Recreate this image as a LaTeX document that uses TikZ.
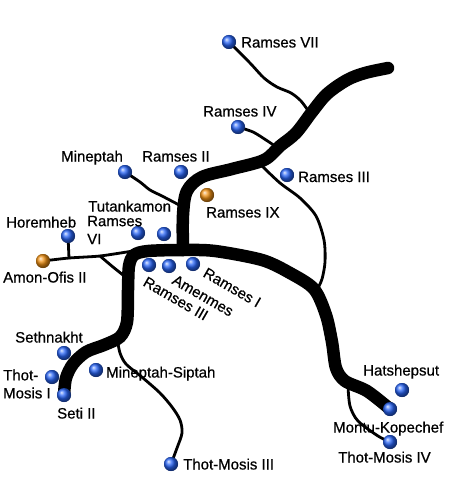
\documentclass[tikz,border=0pt]{standalone}
\usepackage{fontspec}
\setmainfont[FakeBold=0.6]{Liberation Sans}
\usetikzlibrary{shadings}
\definecolor{ballblue}{RGB}{40,100,245}
\definecolor{ballorange}{RGB}{240,145,20}
\begin{document}
\begin{tikzpicture}[x=1pt,y=-1pt,
  trunk/.style={line width=12.5pt, line cap=round, line join=round},
  branch/.style={line width=2.8pt, line cap=round, line join=round},
  lbl/.style={font=\fontsize{15}{18}\selectfont, inner sep=0pt, anchor=base west},
  lbl2/.style={font=\fontsize{15}{18}\selectfont, inner sep=0pt, anchor=west, align=left},
  rlbl/.style={font=\fontsize{15}{18}\selectfont, inner sep=0pt, anchor=base west, rotate=-30},
  bball/.style={circle, inner sep=0pt, minimum size=14pt, shading=ball, ball color=ballblue},
  oball/.style={circle, inner sep=0pt, minimum size=14pt, shading=ball, ball color=ballorange}]
\useasboundingbox (0,0) rectangle (450,500);
\fill[white] (0,0) rectangle (450,500);

% junction coordinates
\coordinate (top) at (388,68);
\coordinate (j1) at (183,250);
\coordinate (jr7) at (309,112);
\coordinate (jr4) at (278,148);
\coordinate (jr3a) at (262,166);
\coordinate (jr3b) at (317,290);
\coordinate (jmin) at (183,207);
\coordinate (jamon) at (133,251);
\coordinate (jh) at (69,258);
\coordinate (jdiag) at (100,256);
\coordinate (jdiag2) at (128,279);
\coordinate (jtm3) at (118,343);
\coordinate (jtm4) at (348,386);

% balls (positions)
\node[bball] (r7) at (229,42) {};
\node[bball] (r4) at (238,127) {};
\node[bball] (r3) at (287,175) {};
\node[oball] (r9) at (207,195) {};
\node[bball] (min) at (125,172) {};
\node[bball] (r2) at (181,172) {};
\node[bball] (tut) at (138,233) {};
\node[bball] (r6) at (164,234) {};
\node[bball] (hor) at (68,236) {};
\node[oball] (amon) at (43,261) {};
\node[bball] (b1) at (149,265) {};
\node[bball] (b2) at (169,266) {};
\node[bball] (b3) at (193,264) {};
\node[bball] (seth) at (64,353) {};
\node[bball] (tm1) at (52,377) {};
\node[bball] (seti) at (64,395) {};
\node[bball] (msip) at (96,370) {};
\node[bball] (tm3) at (171,464) {};
\node[bball] (hat) at (402,390) {};
\node[bball] (mon) at (390,409) {};
\node[bball] (tm4) at (390,442) {};

% thick trunk
\draw[trunk] plot[smooth, tension=0.55] coordinates {(top) (365,73) (347,80) (327,94) (312,112) (296,133) (280,146) (264,160) (232,169) (202,177) (187,191) (183,215) (j1)};
\draw[trunk] plot[smooth, tension=0.5] coordinates {(seti.center) (66,378) (73,364) (86,352) (104,345) (120,337) (127,322) (128,290) (129,266) (134,255) (148,251) (j1) (215,251) (262,260) (290,273) (314,289) (326,315) (332,342) (336,368) (345,381) (367,391) (mon.center)};

% thin branches
\draw[branch] plot[smooth, tension=0.5] coordinates {(r7.center) (250,63) (264,78) (277,87) (291,93) (301,101) (jr7)};
\draw[branch] plot[smooth, tension=0.5] coordinates {(r4.center) (253,132) (266,140) (jr4)};
\draw[branch] plot[smooth, tension=0.5] coordinates {(jr3a) (280,183) (300,198) (316,216) (324,240) (325,262) (322,279) (jr3b)};
\draw[branch] plot[smooth, tension=0.5] coordinates {(min.center) (140,182) (150,190) (162,196) (jmin)};
\draw[branch] plot[smooth, tension=0.4] coordinates {(amon.center) (jh) (jdiag) (jamon)};
\draw[branch] (hor.center) -- (jh);
\draw[branch] plot[smooth, tension=0.4] coordinates {(jdiag) (113,267) (jdiag2)};
\draw[branch] plot[smooth, tension=0.5] coordinates {(jtm3) (120,353) (126,364) (143,378) (160,393) (172,407) (180,420) (182,433) (177,448) (tm3.center)};
\draw[branch] plot[smooth, tension=0.5] coordinates {(jtm4) (350,406) (358,421) (378,436) (tm4.center)};

% redraw balls on top
\foreach \n/\s in {r7/bball,r4/bball,r3/bball,min/bball,r2/bball,tut/bball,r6/bball,hor/bball,b1/bball,b2/bball,b3/bball,seth/bball,tm1/bball,seti/bball,msip/bball,tm3/bball,hat/bball,mon/bball,tm4/bball,r9/oball,amon/oball}
  \node[\s] at (\n) {};

% labels
\node[lbl] (lr7) at (241,47.5) {Ramses VII};
\node[lbl] (lr4) at (203,116.5) {Ramses IV};
\node[lbl] (lr3) at (298,182) {Ramses III};
\node[lbl] (lr9) at (206,217.5) {Ramses IX};
\node[lbl] (lmin) at (61,161.5) {Mineptah};
\node[lbl] (lr2) at (142,161.5) {Ramses II};
\node[lbl] (ltut) at (88,211.5) {Tutankamon};
\node[lbl2] (lr6) at (87,230) {Ramses\\VI};
\node[lbl] (lhor) at (6,227.5) {Horemheb};
\node[lbl] (lamon) at (3,282.5) {Amon-Ofis II};
\node[rlbl] (lb3) at (202,276) {Ramses I};
\node[rlbl] (lb2) at (171,283) {Amenmes};
\node[rlbl] (lb1) at (142,285) {Ramses III};
\node[lbl] (lseth) at (15,342.5) {Sethnakht};
\node[lbl2] (ltm1) at (3,384) {Thot-\\Mosis I};
\node[lbl] (lseti) at (57,418.5) {Seti II};
\node[lbl] (lmsip) at (106,377.5) {Mineptah-Siptah};
\node[lbl] (ltm3) at (183,469.5) {Thot-Mosis III};
\node[lbl] (lhat) at (363,375.5) {Hatshepsut};
\node[lbl] (lmon) at (333,432.5) {Montu-Kopechef};
\node[lbl] (ltm4) at (338,462.5) {Thot-Mosis IV};
\end{tikzpicture}
\end{document}
